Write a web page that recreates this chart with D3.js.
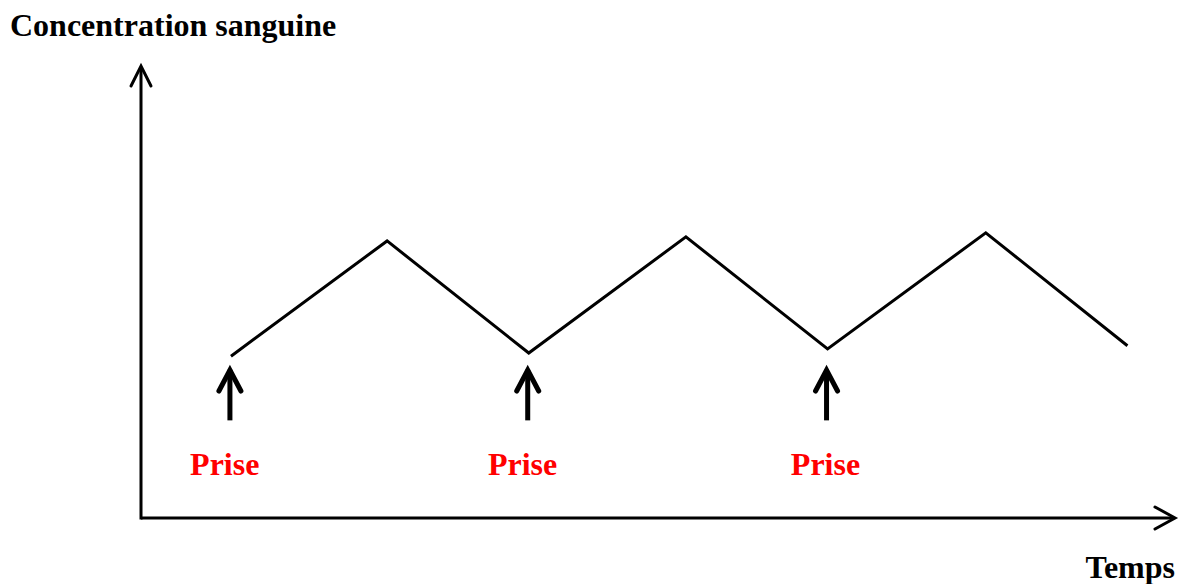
<!DOCTYPE html>
<html><head><meta charset="utf-8">
<script src="https://cdn.jsdelivr.net/npm/d3@7"></script>
<style>body{margin:0;background:#fff}svg{display:block}</style>
</head><body>
<svg id="c" width="1179" height="584"></svg>
<script>
const times = [0.87, 2.38, 3.75, 5.27, 6.64, 8.17, 9.54];
const concentrations = [3.58, 6.13, 3.65, 6.22, 3.74, 6.31, 3.81];
const doseTimes = [0.86, 3.74, 6.63];
const labelTimes = [0.81, 3.69, 6.62];
const doseLabels = ["Prise", "Prise", "Prise"];
const yTitle = "Concentration sanguine";
const xTitle = "Temps";

const font = "'Liberation Serif', 'Times New Roman', serif";
const svg = d3.select("#c");
const x = d3.scaleLinear().domain([0, 10]).range([141, 1175]);
const y = d3.scaleLinear().domain([0, 10]).range([518, 66]);

// axes
svg.append("line").attr("x1", x(0)).attr("x2", x(10) - 2).attr("y1", y(0)).attr("y2", y(0))
  .attr("stroke", "#000").attr("stroke-width", 3);
svg.append("line").attr("x1", x(0)).attr("x2", x(0)).attr("y1", y(0) + 1.5).attr("y2", y(10) + 2)
  .attr("stroke", "#000").attr("stroke-width", 3);
// arrowheads
svg.append("path").attr("d", `M${x(10)-20},${y(0)-11} L${x(10)},${y(0)} L${x(10)-20},${y(0)+11}`)
  .attr("fill", "none").attr("stroke", "#000").attr("stroke-width", 3).attr("stroke-linecap", "round");
svg.append("path").attr("d", `M${x(0)-10},${y(10)+20} L${x(0)},${y(10)} L${x(0)+10},${y(10)+20}`)
  .attr("fill", "none").attr("stroke", "#000").attr("stroke-width", 3).attr("stroke-linecap", "round");

// concentration line
const line = d3.line().x((d, i) => x(times[i])).y(d => y(d));
svg.append("path").datum(concentrations).attr("d", line)
  .attr("fill", "none").attr("stroke", "#000").attr("stroke-width", 3).attr("stroke-linejoin", "miter");

// dose arrows
const g = svg.selectAll("g.dose").data(doseTimes).join("g").attr("class", "dose");
g.append("line").attr("x1", d => x(d)).attr("x2", d => x(d)).attr("y1", y(2.16)).attr("y2", y(3.28))
  .attr("stroke", "#000").attr("stroke-width", 5);
g.append("path").attr("d", d => `M${x(d)-11},${y(3.34)+24} L${x(d)},${y(3.34)+3} L${x(d)+11},${y(3.34)+24}`)
  .attr("fill", "none").attr("stroke", "#000").attr("stroke-width", 5).attr("stroke-linecap", "round");
g.append("text").attr("x", (d, i) => x(labelTimes[i])).attr("y", 475).attr("text-anchor", "middle")
  .style("font-family", font).attr("font-weight", "bold")
  .attr("font-size", 32).attr("fill", "#ff0000").text((d, i) => doseLabels[i]);

// titles
svg.append("text").attr("x", 10).attr("y", 36).style("font-family", font)
  .attr("font-weight", "bold").attr("font-size", 32).attr("fill", "#000").text(yTitle);
svg.append("text").attr("x", 1175).attr("y", 578).attr("text-anchor", "end").style("font-family", font)
  .attr("font-weight", "bold").attr("font-size", 32).attr("fill", "#000").text(xTitle);
</script>
</body></html>
